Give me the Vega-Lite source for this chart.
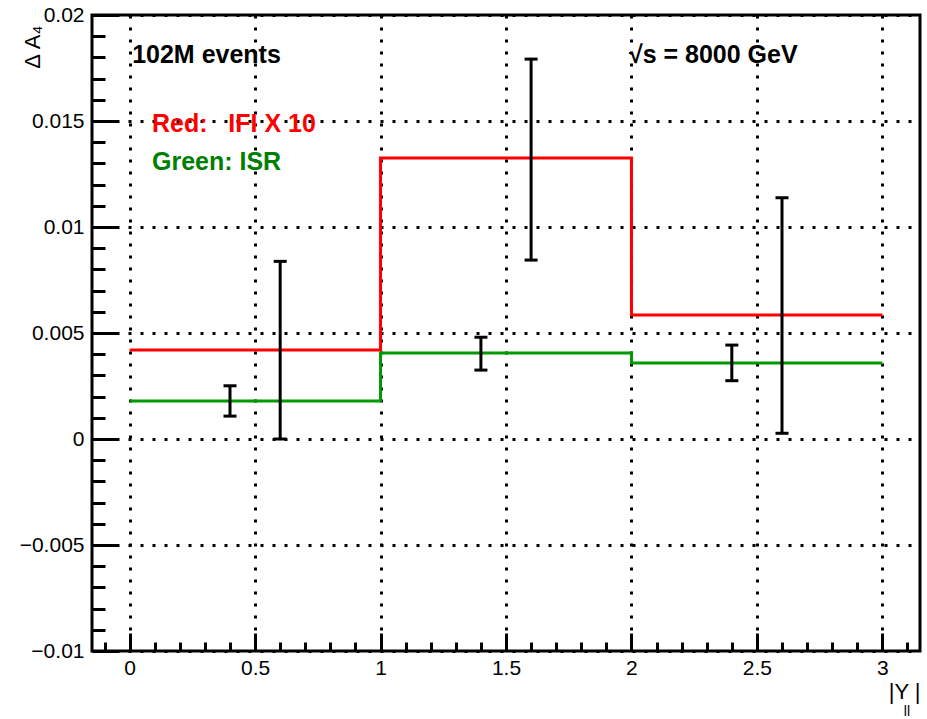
{
  "$schema": "https://vega.github.io/schema/vega-lite/v6.json",
  "autosize": {"type": "none"},
  "padding": {"left": 92, "top": 15, "right": 7, "bottom": 68},
  "width": 828,
  "height": 636,
  "background": "white",
  "config": {
    "view": {"stroke": "black", "strokeWidth": 3},
    "font": "Liberation Sans",
    "axis": {"domain": false, "labelFont": "Liberation Sans", "titleFont": "Liberation Sans"}
  },
  "datasets": {
    "steps": [
      {"series": "IFI", "x": 0, "y": 0.0042},
      {"series": "IFI", "x": 1, "y": 0.01325},
      {"series": "IFI", "x": 2, "y": 0.00585},
      {"series": "IFI", "x": 3, "y": 0.00585},
      {"series": "ISR", "x": 0, "y": 0.00179},
      {"series": "ISR", "x": 1, "y": 0.00406},
      {"series": "ISR", "x": 2, "y": 0.00358},
      {"series": "ISR", "x": 3, "y": 0.00358}
    ],
    "errs": [
      {"x": 0.4, "lo": 0.00108, "hi": 0.00251},
      {"x": 0.6, "lo": 0.0000, "hi": 0.00838},
      {"x": 1.4, "lo": 0.00325, "hi": 0.0048},
      {"x": 1.6, "lo": 0.00844, "hi": 0.01792},
      {"x": 2.4, "lo": 0.00275, "hi": 0.00443},
      {"x": 2.6, "lo": 0.00027, "hi": 0.01138}
    ],
    "labels": [
      {"x": 0.01, "y": 0.01774, "text": "102M events", "c": "black"},
      {"x": 1.99, "y": 0.01774, "text": "√s = 8000 GeV", "c": "black"},
      {"x": 0.089, "y": 0.01448, "text": "Red:\u00a0\u00a0\u00a0IFI X 10", "c": "red"},
      {"x": 0.089, "y": 0.01269, "text": "Green: ISR", "c": "green"}
    ],
    "sub": [
      {"x": 3.098, "y": -0.01307, "text": "ll"}
    ]
  },
  "resolve": {"axis": {"x": "independent", "y": "independent"}},
  "layer": [
    {
      "data": {"name": "steps"},
      "mark": {"type": "line", "interpolate": "step-after", "strokeWidth": 3},
      "encoding": {
        "x": {
          "field": "x", "type": "quantitative",
          "scale": {"domain": [-0.15, 3.15], "nice": false, "zero": false},
          "axis": {
            "orient": "bottom",
            "values": [0, 0.5, 1, 1.5, 2, 2.5, 3],
            "format": "~g",
            "tickSize": -18, "tickWidth": 3, "tickColor": "black",
            "labelFontSize": 21, "labelColor": "black", "labelPadding": 24,
            "grid": true, "gridDash": [3, 9], "gridWidth": 3, "gridColor": "black", "gridOpacity": 1,
            "title": "|Y   |", "titleFontSize": 22, "titleFontWeight": "normal", "titleColor": "black",
            "titleAnchor": "end", "titleAlign": "right", "titleX": 828, "titleY": 47, "titleBaseline": "alphabetic"
          }
        },
        "y": {
          "field": "y", "type": "quantitative",
          "scale": {"domain": [-0.01, 0.02], "nice": false, "zero": false},
          "axis": {
            "orient": "left",
            "values": [-0.01, -0.005, 0, 0.005, 0.01, 0.015, 0.02],
            "format": "~g",
            "tickSize": -26, "tickWidth": 3, "tickColor": "black",
            "labelFontSize": 21, "labelColor": "black", "labelPadding": 34,
            "grid": true, "gridDash": [3, 9], "gridWidth": 3, "gridColor": "black", "gridOpacity": 1,
            "title": "Δ A₄", "titleFontSize": 22, "titleFontWeight": "normal", "titleColor": "black",
            "titleAngle": -90, "titleAlign": "right", "titleBaseline": "alphabetic",
            "titleX": -53, "titleY": 10
          }
        },
        "color": {
          "field": "series", "type": "nominal",
          "scale": {"domain": ["IFI", "ISR"], "range": ["#ff0000", "#009900"]},
          "legend": null
        }
      }
    },
    {
      "data": {"name": "errs"},
      "mark": {"type": "rule", "strokeWidth": 3, "color": "black"},
      "encoding": {
        "x": {
          "field": "x", "type": "quantitative",
          "axis": {
            "orient": "bottom",
            "values": [-0.1, 0.1, 0.2, 0.3, 0.4, 0.6, 0.7, 0.8, 0.9, 1.1, 1.2, 1.3, 1.4, 1.6, 1.7, 1.8, 1.9, 2.1, 2.2, 2.3, 2.4, 2.6, 2.7, 2.8, 2.9, 3.1],
            "labels": false, "grid": false, "title": null,
            "tickSize": -9, "tickWidth": 3, "tickColor": "black"
          }
        },
        "y": {
          "field": "lo", "type": "quantitative",
          "axis": {
            "orient": "left",
            "values": [-0.009, -0.008, -0.007, -0.006, -0.004, -0.003, -0.002, -0.001, 0.001, 0.002, 0.003, 0.004, 0.006, 0.007, 0.008, 0.009, 0.011, 0.012, 0.013, 0.014, 0.016, 0.017, 0.018, 0.019],
            "labels": false, "grid": false, "title": null,
            "tickSize": -13, "tickWidth": 3, "tickColor": "black"
          }
        },
        "y2": {"field": "hi"}
      }
    },
    {
      "data": {"name": "errs"},
      "mark": {"type": "tick", "orient": "horizontal", "size": 13, "thickness": 3, "color": "black", "opacity": 1},
      "encoding": {
        "x": {"field": "x", "type": "quantitative", "axis": null},
        "y": {"field": "lo", "type": "quantitative", "axis": null}
      }
    },
    {
      "data": {"name": "errs"},
      "mark": {"type": "tick", "orient": "horizontal", "size": 13, "thickness": 3, "color": "black", "opacity": 1},
      "encoding": {
        "x": {"field": "x", "type": "quantitative", "axis": null},
        "y": {"field": "hi", "type": "quantitative", "axis": null}
      }
    },
    {
      "data": {"name": "labels"},
      "mark": {"type": "text", "align": "left", "baseline": "alphabetic", "fontSize": 25, "fontWeight": "bold", "font": "Liberation Sans"},
      "encoding": {
        "x": {"field": "x", "type": "quantitative", "axis": null},
        "y": {"field": "y", "type": "quantitative", "axis": null},
        "text": {"field": "text"},
        "color": {"field": "c", "type": "nominal", "scale": null}
      }
    },
    {
      "data": {"name": "sub"},
      "mark": {"type": "text", "align": "center", "baseline": "alphabetic", "fontSize": 14, "font": "Liberation Sans", "color": "black"},
      "encoding": {
        "x": {"field": "x", "type": "quantitative", "axis": null},
        "y": {"field": "y", "type": "quantitative", "axis": null},
        "text": {"field": "text"}
      }
    }
  ]
}
